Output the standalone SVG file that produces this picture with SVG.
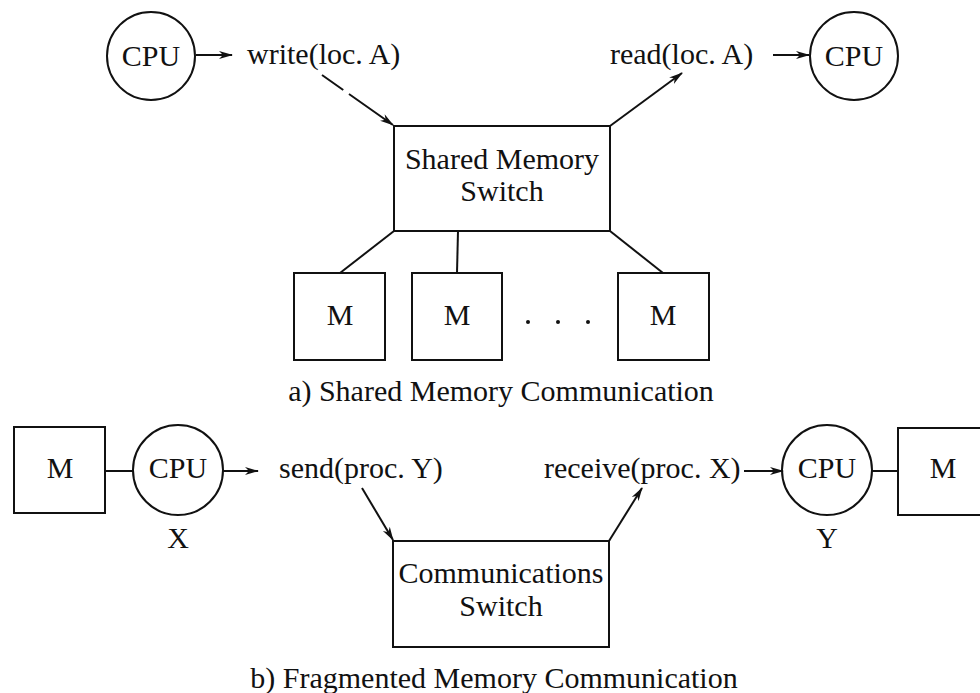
<svg xmlns="http://www.w3.org/2000/svg" width="980" height="693" viewBox="0 0 980 693">
<style>
text{font-family:"Liberation Serif","Times New Roman",serif;font-size:30px;fill:#111}
.c{text-anchor:middle}
.s{fill:none;stroke:#111;stroke-width:2}
.box{fill:#fff;stroke:#111;stroke-width:2}
</style>
<defs>
<marker id="ah" markerWidth="14" markerHeight="10" refX="13" refY="5" orient="auto" markerUnits="userSpaceOnUse">
<path d="M0,1 L14,5 L0,9 L4,5 z" fill="#111"/>
</marker>
</defs>
<rect width="980" height="693" fill="#fff"/>

<g id="connectors">
<line class="s" x1="196" y1="55" x2="232" y2="55" marker-end="url(#ah)"/>
<line class="s" x1="322" y1="75" x2="393" y2="125" stroke-dasharray="26 7 200" marker-end="url(#ah)"/>
<line class="s" x1="610" y1="126" x2="682" y2="73" marker-end="url(#ah)"/>
<line class="s" x1="773" y1="55" x2="809" y2="55" marker-end="url(#ah)"/>
<line class="s" x1="394" y1="231" x2="340" y2="273"/>
<line class="s" x1="458" y1="231" x2="457" y2="273"/>
<line class="s" x1="610" y1="231" x2="663" y2="273"/>
<line class="s" x1="105" y1="471" x2="133" y2="471"/>
<line class="s" x1="223" y1="471" x2="258" y2="471" marker-end="url(#ah)"/>
<line class="s" x1="362" y1="488" x2="393" y2="540" marker-end="url(#ah)"/>
<line class="s" x1="609" y1="541" x2="642" y2="488" marker-end="url(#ah)"/>
<line class="s" x1="744" y1="471" x2="783" y2="471" marker-end="url(#ah)"/>
<line class="s" x1="872" y1="471" x2="898" y2="471"/>
</g>

<g id="cpu-top-left"><circle class="s" cx="151" cy="56" r="44"/><text class="c" x="151" y="66">CPU</text></g>
<g id="label-write"><text x="247" y="64">write(loc. A)</text></g>
<g id="label-read"><text x="610" y="64">read(loc. A)</text></g>
<g id="cpu-top-right"><circle class="s" cx="854" cy="56" r="44"/><text class="c" x="854" y="66">CPU</text></g>

<g id="shared-switch"><rect class="box" x="394" y="126" width="216" height="105"/>
<text class="c" x="502" y="169">Shared Memory</text><text class="c" x="502" y="201">Switch</text></g>

<g id="mem-1"><rect class="box" x="294" y="273" width="91" height="87"/><text class="c" x="340" y="325">M</text></g>
<g id="mem-2"><rect class="box" x="412" y="273" width="90" height="87"/><text class="c" x="457" y="325">M</text></g>
<g id="dots"><circle cx="528" cy="322" r="2" fill="#111"/><circle cx="558" cy="322" r="2" fill="#111"/><circle cx="588" cy="322" r="2" fill="#111"/></g>
<g id="mem-3"><rect class="box" x="618" y="273" width="91" height="87"/><text class="c" x="663" y="325">M</text></g>

<g id="caption-a"><text class="c" x="501" y="401">a) Shared Memory Communication</text></g>

<g id="mem-x"><rect class="box" x="14" y="427" width="91" height="86"/><text class="c" x="60" y="478">M</text></g>
<g id="cpu-x"><circle class="s" cx="178" cy="470" r="45"/><text class="c" x="178" y="478">CPU</text><text class="c" x="178" y="548">X</text></g>
<g id="label-send"><text x="279" y="478">send(proc. Y)</text></g>
<g id="label-receive"><text x="544" y="478">receive(proc. X)</text></g>
<g id="cpu-y"><circle class="s" cx="827" cy="470" r="45"/><text class="c" x="827" y="478">CPU</text><text class="c" x="827" y="548">Y</text></g>
<g id="mem-y"><rect class="box" x="898" y="428" width="91" height="87"/><text class="c" x="943" y="478">M</text></g>

<g id="comm-switch"><rect class="box" x="393" y="541" width="216" height="106"/>
<text class="c" x="501" y="583">Communications</text><text class="c" x="501" y="616">Switch</text></g>

<g id="caption-b"><text class="c" x="494" y="688">b) Fragmented Memory Communication</text></g>
</svg>
